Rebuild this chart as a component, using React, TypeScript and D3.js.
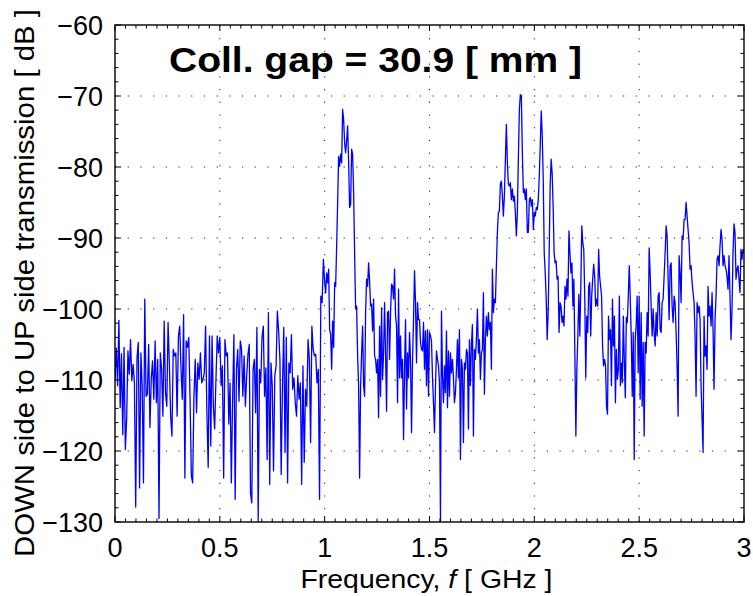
import React from "react";
import * as d3 from "d3";

// ---- data ----
const bandEdges = [0, 0.5, 1.0, 1.5, 2.0, 2.5, 3.0];

const band1 = [-110.0, -105.5, -110.8, -101.6, -113.9, -106.3, -117.7, -105.4, -119.8, -115.5, -105.9, -109.2, -104.3, -110.1, -107.8, -110.4, -127.9, -106.9, -104.7, -125.2, -106.2, -110.8, -124.5, -98.6, -112.3, -112.0, -105.0, -116.7, -109.9, -107.3, -112.7, -104.5, -113.2, -107.1, -129.5, -106.2, -108.5, -115.1, -101.7, -111.8, -113.7, -101.9, -107.6, -115.1, -117.9, -105.7, -106.6, -106.2, -115.1, -103.8, -102.4, -108.5, -112.7, -100.8, -123.8, -104.5, -105.4, -104.0, -112.7, -123.5, -124.5, -112.3, -107.1, -114.6, -107.6, -109.9, -106.2, -110.4, -109.9, -109.0, -102.4, -114.6, -122.3, -103.8, -119.3, -103.8, -113.7, -116.9, -109.9, -103.8, -106.2];

const band2 = [-104.0, -110.8, -108.0, -123.8, -104.3, -106.6, -106.2, -116.2, -110.4, -124.5, -112.7, -103.6, -126.8, -108.5, -105.7, -113.0, -104.5, -105.7, -112.3, -106.6, -113.7, -109.4, -106.4, -105.0, -125.9, -127.3, -108.5, -107.1, -114.6, -102.6, -129.9, -108.5, -110.4, -104.0, -102.4, -112.3, -108.3, -121.2, -100.5, -124.7, -107.6, -110.8, -122.8, -109.4, -108.0, -100.3, -103.1, -107.1, -123.3, -110.8, -102.6, -120.2, -104.0, -124.5, -107.6, -109.0, -103.6, -111.3, -109.7, -113.2, -115.1, -109.4, -112.7, -110.4, -124.7, -108.0, -121.6, -111.3, -113.7, -104.3, -107.1, -118.8, -102.4, -105.7, -106.6, -106.4, -110.4, -108.5, -126.8, -98.2, -99.1, -93.0];

const band3 = [-96.3, -97.7, -94.9, -96.3, -94.4, -102.9, -103.6, -108.5, -101.7, -105.4, -96.3, -96.8, -91.1, -85.0, -78.5, -79.9, -78.2, -79.4, -71.9, -73.3, -76.6, -78.0, -76.3, -74.2, -79.4, -85.7, -85.3, -77.5, -78.2, -83.6, -92.1, -100.0, -99.6, -106.6, -110.8, -123.8, -110.8, -106.2, -102.4, -110.8, -112.3, -100.5, -95.8, -96.8, -93.5, -96.1, -99.6, -99.3, -103.1, -98.6, -106.6, -107.1, -109.0, -107.1, -115.3, -102.4, -112.3, -99.8, -109.9, -106.2, -99.1, -106.2, -114.4, -100.5, -100.3, -107.1, -100.5, -96.5, -96.8, -98.6, -94.4, -101.0, -102.4, -113.2, -97.2, -109.7, -103.8, -109.7, -107.1, -118.4, -108.5, -101.5, -114.1, -106.2, -109.7, -103.3, -107.3, -117.4, -107.1, -101.5, -94.6, -99.1, -107.6, -99.1, -101.5, -101.5, -104.7, -105.7, -105.9, -101.9, -108.5, -103.1, -110.8, -102.9, -112.3];

const band4 = [-103.3, -103.8, -104.5, -109.7, -113.2, -117.4, -110.8, -105.9, -107.1, -108.0, -110.4, -129.9, -100.3, -109.4, -113.2, -108.0, -111.8, -103.1, -113.9, -105.9, -112.3, -106.2, -109.0, -107.1, -109.7, -113.2, -111.8, -108.5, -104.3, -109.7, -102.9, -121.2, -107.1, -108.5, -118.8, -107.6, -108.5, -105.7, -106.2, -116.9, -104.3, -110.8, -105.0, -102.2, -117.9, -105.7, -107.1, -104.3, -100.0, -106.2, -104.3, -109.9, -106.2, -105.7, -97.7, -112.0, -104.3, -101.0, -103.8, -100.5, -102.9, -101.9, -108.5, -94.4, -100.5, -98.6, -99.1, -93.9, -89.2, -86.4, -86.2, -82.4, -82.0, -84.1, -86.9, -84.1, -78.9, -74.0, -79.4, -82.4, -82.7, -82.2, -84.6, -83.1, -84.8, -84.1, -86.4, -89.7, -86.4, -78.9, -71.9, -69.8, -70.0, -78.0, -83.6, -83.1, -84.6, -83.1, -89.2, -89.2, -84.6, -84.3, -85.5, -84.6, -88.8];

const band5 = [-86.4, -86.9, -85.7, -86.0, -84.6, -81.3, -77.0, -72.1, -75.6, -81.7, -92.1, -94.9, -98.6, -104.3, -100.5, -92.1, -82.7, -78.9, -80.8, -85.5, -92.1, -93.5, -93.2, -95.8, -95.4, -103.3, -99.1, -99.6, -101.9, -101.0, -102.4, -96.8, -98.6, -95.8, -98.2, -89.0, -92.1, -94.9, -93.5, -99.6, -95.8, -106.6, -117.9, -108.5, -103.8, -97.9, -103.8, -96.8, -88.3, -90.7, -91.6, -98.6, -109.7, -101.0, -103.3, -96.8, -96.3, -103.8, -98.2, -95.8, -93.7, -95.4, -99.6, -98.6, -99.6, -91.6, -95.4, -96.8, -98.2, -105.2, -108.0, -107.1, -108.0, -113.7, -114.8, -101.0, -104.3, -102.9, -110.8, -98.6, -105.2, -101.0, -113.2, -105.7, -109.9, -108.5, -98.2, -110.8, -107.6, -110.4, -101.0, -107.3, -112.5, -101.2, -101.9, -98.2, -93.9, -98.6, -103.8, -112.3, -103.3, -121.2, -104.3, -102.2, -98.2, -109.0];

const band6 = [-98.2, -112.7, -100.5, -113.7, -104.7, -117.9, -104.7, -106.2, -100.5, -103.8, -91.4, -94.9, -99.6, -103.8, -100.0, -103.3, -105.2, -100.5, -103.8, -98.2, -97.7, -102.9, -103.3, -99.1, -98.6, -95.4, -92.1, -88.3, -89.7, -95.8, -101.5, -93.9, -93.5, -99.6, -101.9, -98.2, -99.1, -103.3, -108.0, -115.1, -92.5, -94.9, -99.1, -89.7, -90.2, -87.4, -87.4, -85.0, -86.9, -88.8, -90.7, -94.4, -93.9, -96.3, -97.7, -99.1, -103.8, -112.3, -99.1, -100.5, -99.6, -101.5, -110.8, -115.5, -120.2, -101.0, -106.6, -105.2, -108.5, -96.8, -101.0, -99.6, -102.4, -97.7, -102.9, -111.3, -101.5, -98.2, -93.0, -92.5, -93.9, -91.1, -88.8, -90.2, -93.9, -92.5, -93.9, -94.4, -95.4, -97.2, -92.5, -98.2, -104.3, -100.0, -92.1, -88.0, -89.2, -95.8, -94.4, -93.9, -95.8, -97.7, -91.6, -93.0, -91.6, -92.1];

const bands = [band1, band2, band3, band4, band5, band6];

const xTickValues = [0, 0.5, 1, 1.5, 2, 2.5, 3];
const xTickLabels = ["0", "0.5", "1", "1.5", "2", "2.5", "3"];
const yTickValues = [-130, -120, -110, -100, -90, -80, -70, -60];
const yTickLabels = ["\u2212130", "\u2212120", "\u2212110", "\u2212100", "\u221290", "\u221280", "\u221270", "\u221260"];

const titleText = "Coll. gap = 30.9 [ mm ]";
const yLabelText = "DOWN side to UP side transmission [ dB ]";

// ---- layout ----
const W = 753;
const H = 596;
const plot = { left: 115, right: 744, top: 25, bottom: 522 };
const FONT = "'Liberation Sans', Arial, Helvetica, sans-serif";

export default function App() {
  const x = d3.scaleLinear().domain([0, 3]).range([plot.left, plot.right]);
  const y = d3.scaleLinear().domain([-130, -60]).range([plot.bottom, plot.top]);

  const pts: [number, number][] = [];
  bands.forEach((vals, k) => {
    const f0 = bandEdges[k];
    const f1 = bandEdges[k + 1];
    const last = k === bands.length - 1;
    const n = last ? vals.length - 1 : vals.length;
    vals.forEach((v, j) => {
      pts.push([f0 + (j * (f1 - f0)) / n, v]);
    });
  });

  const line = d3
    .line<[number, number]>()
    .x((d) => x(d[0]))
    .y((d) => y(d[1]));

  const xMinor = d3.range(0, 3.0001, 0.05);
  const yMinor = d3.range(-130, -59.99, 2);
  const majLen = 6;
  const minLen = 3.5;

  return (
    <div style={{ position: "fixed", left: 0, top: 0, width: W, height: H, background: "#fff" }}>
      <svg width={W} height={H} viewBox={`0 0 ${W} ${H}`} style={{ display: "block" }}>
        <rect x={0} y={0} width={W} height={H} fill="#fff" />
        <defs>
          <clipPath id="plotClip">
            <rect x={plot.left} y={plot.top} width={plot.right - plot.left} height={plot.bottom - plot.top} />
          </clipPath>
        </defs>

        {/* grid */}
        <g stroke="#222" strokeWidth={1} strokeDasharray="1.2 11.5">
          {xTickValues.slice(1, -1).map((v) => (
            <line key={"gx" + v} x1={x(v)} x2={x(v)} y1={plot.bottom} y2={plot.top} />
          ))}
          {yTickValues.slice(1, -1).map((v) => (
            <line key={"gy" + v} x1={plot.left} x2={plot.right} y1={y(v)} y2={y(v)} />
          ))}
        </g>

        {/* data line */}
        <path
          d={line(pts) || ""}
          fill="none"
          stroke="#0000ff"
          strokeWidth={1.3}
          strokeLinejoin="round"
          clipPath="url(#plotClip)"
        />

        {/* ticks */}
        <g stroke="#000" strokeWidth={1}>
          {xMinor.map((v, i) => {
            const len = Math.abs(v * 2 - Math.round(v * 2)) < 1e-6 ? majLen : minLen;
            return (
              <g key={"xt" + i}>
                <line x1={x(v)} x2={x(v)} y1={plot.bottom} y2={plot.bottom - len} />
                <line x1={x(v)} x2={x(v)} y1={plot.top} y2={plot.top + len} />
              </g>
            );
          })}
          {yMinor.map((v, i) => {
            const len = Math.abs(v % 10) < 1e-6 ? majLen : minLen;
            return (
              <g key={"yt" + i}>
                <line x1={plot.left} x2={plot.left + len} y1={y(v)} y2={y(v)} />
                <line x1={plot.right} x2={plot.right - len} y1={y(v)} y2={y(v)} />
              </g>
            );
          })}
        </g>

        {/* frame */}
        <rect
          x={plot.left}
          y={plot.top}
          width={plot.right - plot.left}
          height={plot.bottom - plot.top}
          fill="none"
          stroke="#000"
          strokeWidth={1.4}
        />

        {/* tick labels */}
        <g fontFamily={FONT} fontSize={27} fill="#000">
          {xTickValues.map((v, i) => (
            <text key={"xl" + v} x={x(v)} y={plot.bottom + 35} textAnchor="middle">
              {xTickLabels[i]}
            </text>
          ))}
          {yTickValues.map((v, i) => (
            <text key={"yl" + v} x={plot.left - 12} y={y(v) + 10} textAnchor="end">
              {yTickLabels[i]}
            </text>
          ))}
        </g>

        {/* axis labels */}
        <text
          x={(plot.left + plot.right) / 2 - 3}
          y={588}
          textAnchor="middle"
          fontFamily={FONT}
          fontSize={26}
          textLength={252}
          lengthAdjust="spacingAndGlyphs"
        >
          Frequency, <tspan fontStyle="italic">f</tspan> [ GHz ]
        </text>
        <text
          transform={`translate(34, ${283}) rotate(-90)`}
          textAnchor="middle"
          fontFamily={FONT}
          fontSize={27}
          textLength={548}
          lengthAdjust="spacingAndGlyphs"
        >
          {yLabelText}
        </text>

        {/* title */}
        <text
          x={169}
          y={72}
          fontFamily={FONT}
          fontSize={35}
          fontWeight="bold"
          textLength={413}
          lengthAdjust="spacingAndGlyphs"
        >
          {titleText}
        </text>
      </svg>
    </div>
  );
}
